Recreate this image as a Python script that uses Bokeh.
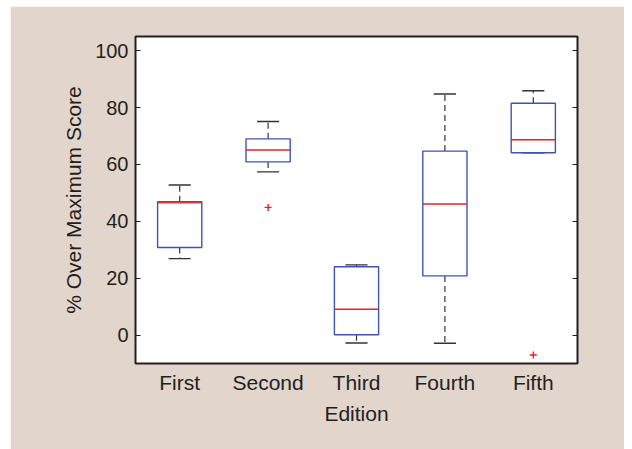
import numpy as np
from bokeh.plotting import figure
from bokeh.models import FixedTicker, LinearAxis, Range1d
from bokeh.embed import file_html
from bokeh.resources import INLINE

# ---- data ----
editions = ["First", "Second", "Third", "Fourth", "Fifth"]
whisker_low = [26.9, 57.4, -2.8, -2.9, 64.1]
q1 = [30.8, 60.9, 0.1, 20.8, 64.1]
median = [46.5, 65.1, 9.1, 46.1, 68.7]
q3 = [46.9, 69.0, 24.0, 64.7, 81.5]
whisker_high = [52.8, 75.1, 24.7, 84.8, 85.9]
outlier_edition = [2, 5]
outlier_value = [44.9, -7.0]
y_ticks = [0, 20, 40, 60, 80, 100]

FONT = "Liberation Sans"
TXT = "#231f20"
BG = "#e2d5cc"
BLUE = "#3a55b4"
RED = "#e8202a"

x = np.arange(1, len(editions) + 1)
bw = 0.25   # half box width
cw = 0.125  # half cap width

p = figure(width=614, height=443, output_backend="svg", toolbar_location=None,
           x_range=Range1d(0.5, 5.5), y_range=Range1d(-10, 105),
           min_border_left=125, min_border_right=47, min_border_top=30,
           min_border_bottom=86)
p.margin = (6, 0, 0, 10)
p.background_fill_color = "white"
p.border_fill_color = BG
p.outline_line_color = TXT
p.outline_line_width = 2
p.grid.visible = False

# whiskers (dashed)
p.segment(x0=x, y0=np.array(q3), x1=x, y1=np.array(whisker_high),
          line_color="#333333", line_width=1.2, line_dash="6 4")
p.segment(x0=x, y0=np.array(q1), x1=x, y1=np.array(whisker_low),
          line_color="#333333", line_width=1.2, line_dash="6 4")
# caps
p.segment(x0=x - cw, y0=whisker_high, x1=x + cw, y1=whisker_high,
          line_color="#333333", line_width=1.4)
p.segment(x0=x - cw, y0=whisker_low, x1=x + cw, y1=whisker_low,
          line_color="#333333", line_width=1.4)
# boxes
p.quad(left=x - bw, right=x + bw, bottom=q1, top=q3,
       fill_color="white", line_color=BLUE, line_width=1.4)
# medians
p.segment(x0=x - bw, y0=median, x1=x + bw, y1=median,
          line_color=RED, line_width=1.4)
# outliers
p.scatter(x=outlier_edition, y=outlier_value, marker="cross", size=7,
          line_color=RED, line_width=1.4)

# x axis
xa = p.xaxis[0]
xa.ticker = FixedTicker(ticks=list(x))
xa.major_label_overrides = {int(i): e for i, e in zip(x, editions)}
xa.axis_label = "Edition"
xa.major_tick_line_color = None
xa.minor_tick_line_color = None
xa.axis_line_color = None
xa.major_label_standoff = 1
xa.axis_label_standoff = 5

# y axis
ya = p.yaxis[0]
ya.ticker = FixedTicker(ticks=y_ticks)
ya.axis_label = "% Over Maximum Score"
ya.major_tick_in = 5
ya.major_tick_out = 0
ya.major_tick_line_color = TXT
ya.minor_tick_line_color = None
ya.axis_line_color = None
ya.major_label_standoff = 7
ya.axis_label_standoff = 7

ra = LinearAxis(ticker=FixedTicker(ticks=y_ticks), major_tick_in=5, major_tick_out=0,
                major_tick_line_color=TXT,
                minor_tick_line_color=None, axis_line_color=None,
                major_label_text_font_size="0px", major_label_text_alpha=0)
p.add_layout(ra, "right")

for ax in (xa, ya):
    ax.major_label_text_font = FONT
    ax.major_label_text_color = TXT
    ax.axis_label_text_font = FONT
    ax.axis_label_text_font_size = "21px"
    ax.axis_label_text_font_style = "normal"
    ax.axis_label_text_color = TXT
xa.major_label_text_font_size = "21px"
ya.major_label_text_font_size = "20px"

open("out.html", "w").write(file_html(p, INLINE))
